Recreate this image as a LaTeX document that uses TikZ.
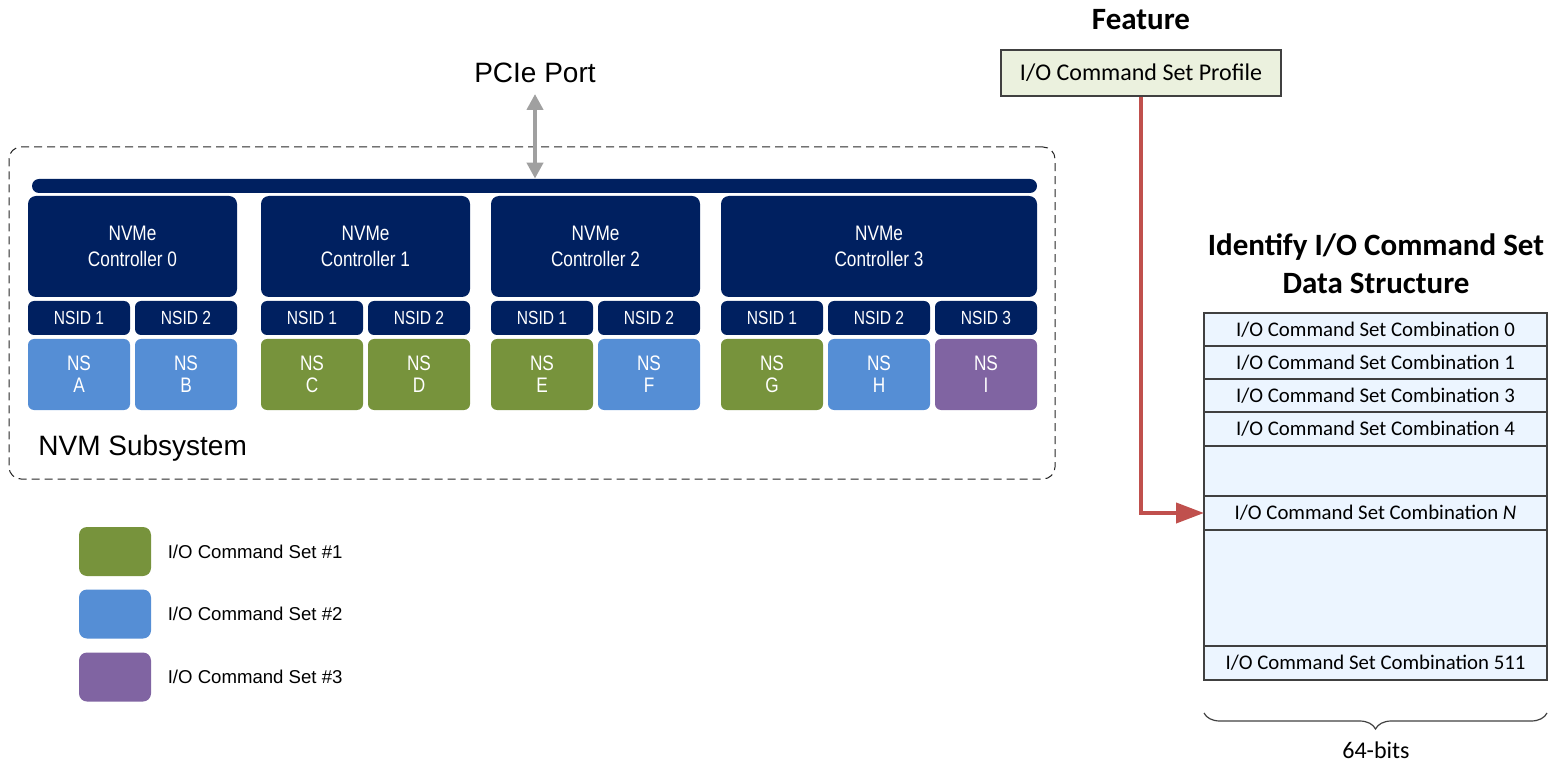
\documentclass[tikz,border=0pt]{standalone}
\usepackage{fontspec}
\setmainfont{Liberation Sans}
\newfontfamily\narrowfont[FakeStretch=0.82]{Liberation Sans}
\newfontfamily\calfont{Carlito}
\usetikzlibrary{positioning}
\usetikzlibrary{arrows.meta}
\usetikzlibrary{decorations.pathreplacing}

\definecolor{navy}{RGB}{0,32,96}
\definecolor{nsgreen}{RGB}{119,147,60}
\definecolor{nsblue}{RGB}{85,142,213}
\definecolor{nspurple}{RGB}{128,100,162}
\definecolor{portgray}{RGB}{160,160,160}
\definecolor{featred}{RGB}{192,80,77}
\definecolor{featfill}{RGB}{235,241,222}
\definecolor{rowfill}{RGB}{236,245,255}
\definecolor{edgegray}{RGB}{64,64,64}

\tikzset{
  ctrl/.style={fill=navy, rounded corners=4pt, text=white, align=center, inner sep=0pt,
    minimum width=104.5pt, minimum height=50.5pt, font=\narrowfont\fontsize{10.5}{13}\selectfont},
  nsid/.style={fill=navy, rounded corners=3pt, text=white, inner sep=0pt,
    minimum width=51pt, minimum height=17pt, font=\narrowfont\fontsize{9.5}{11}\selectfont},
  ns/.style={rounded corners=3pt, text=white, align=center, inner sep=0pt,
    minimum width=51pt, minimum height=35.5pt, font=\narrowfont\fontsize{10.5}{11}\selectfont},
  bus/.style={fill=navy, rounded corners=3.5pt, inner sep=0pt, minimum width=502.5pt, minimum height=7pt},
  subsys/.style={draw=black!85, line width=.5pt, dash pattern=on 4pt off 2.5pt, rounded corners=6pt,
    inner sep=0pt, minimum width=523pt, minimum height=166pt},
  pcie/.style={{Triangle[length=8pt,width=8pt]}-{Triangle[length=8pt,width=8pt]}, draw=portgray, line width=2pt},
  swatch/.style={rounded corners=4pt, minimum width=36pt, minimum height=24.5pt, inner sep=0pt},
  legend/.style={inner sep=0pt, font=\fontsize{9.3}{11}\selectfont},
  feat/.style={draw=edgegray, line width=.6pt, fill=featfill, minimum width=140pt, minimum height=23pt,
    inner sep=0pt, font=\calfont\fontsize{12}{14}\selectfont},
  link/.style={-{Triangle[length=14pt,width=10pt]}, draw=featred, line width=2pt},
  row/.style={draw=edgegray, line width=.6pt, fill=rowfill, minimum width=171.5pt, inner sep=0pt,
    outer sep=0pt, font=\calfont\fontsize{10.4}{12}\selectfont},
  title/.style={align=center, inner sep=0pt, font=\calfont\bfseries\fontsize{15.5}{19}\selectfont},
  brace/.style={decorate, decoration={brace, mirror, amplitude=8pt}, draw=edgegray, line width=.6pt}
}

\begin{document}
\begin{tikzpicture}[x=0.5pt, y=-0.5pt]
  \useasboundingbox (0,0) rectangle (1551,764);

    %----------------------------------------------------------
    % NVM subsystem with its controllers
    %----------------------------------------------------------
   \node[subsys] (nvm) at (532,313) {};
   \node[anchor=base west, inner sep=0pt, font=\fontsize{14}{16}\selectfont] (nvmlabel) at (38,455) {NVM Subsystem};
   \node[bus] (bus) at (534.5,186) {};

   \node[font=\fontsize{14}{16}\selectfont] (port) at (535,73) {PCIe Port};
   \draw[pcie] ([yshift=-2pt]port.south) -- (port.south |- bus.north);

   \node[ctrl] (c0) at (132.5,246.5) {NVMe\\Controller 0};
   \node[ctrl] (c1) at (365.5,246.5) {NVMe\\Controller 1};
   \node[ctrl] (c2) at (595.5,246.5) {NVMe\\Controller 2};
   \node[ctrl, minimum width=158pt] (c3) at (879,246.5) {NVMe\\Controller 3};

   % namespace IDs
   \node[nsid] (id01) at (79,318) {NSID 1};
   \node[nsid] (id02) at (186,318) {NSID 2};
   \node[nsid] (id11) at (312,318) {NSID 1};
   \node[nsid] (id12) at (419,318) {NSID 2};
   \node[nsid] (id21) at (542,318) {NSID 1};
   \node[nsid] (id22) at (649,318) {NSID 2};
   \node[nsid] (id31) at (772,318) {NSID 1};
   \node[nsid] (id32) at (879,318) {NSID 2};
   \node[nsid] (id33) at (986,318) {NSID 3};

   % namespaces
   \node[ns, fill=nsblue] (nsA) at (79,374.5) {NS\\A};
   \node[ns, fill=nsblue] (nsB) at (186,374.5) {NS\\B};
   \node[ns, fill=nsgreen] (nsC) at (312,374.5) {NS\\C};
   \node[ns, fill=nsgreen] (nsD) at (419,374.5) {NS\\D};
   \node[ns, fill=nsgreen] (nsE) at (542,374.5) {NS\\E};
   \node[ns, fill=nsblue] (nsF) at (649,374.5) {NS\\F};
   \node[ns, fill=nsgreen] (nsG) at (772,374.5) {NS\\G};
   \node[ns, fill=nsblue] (nsH) at (879,374.5) {NS\\H};
   \node[ns, fill=nspurple] (nsI) at (986,374.5) {NS\\I};

    %----------------------------------------------------------
    % Legend
    %----------------------------------------------------------
   \node[swatch, fill=nsgreen] (sw1) at (115,551.5) {};
   \node[swatch, fill=nsblue] (sw2) at (115,614) {};
   \node[swatch, fill=nspurple] (sw3) at (115,677) {};
   \node[legend, right=8pt of sw1] (lg1) {I/O Command Set \#1};
   \node[legend, right=8pt of sw2] (lg2) {I/O Command Set \#2};
   \node[legend, right=8pt of sw3] (lg3) {I/O Command Set \#3};

    %----------------------------------------------------------
    % Feature and data structure
    %----------------------------------------------------------
   \node[title] (feattitle) at (1141,20) {Feature};
   \node[feat] (feat) at (1141,73) {I/O Command Set Profile};

   \node[title] (tabtitle) at (1376,264) {Identify I/O Command Set\\Data Structure};
   \node[row, minimum height=16.5pt] (r0) at (1375.5,329.5) {I/O Command Set Combination 0};
   \node[row, minimum height=16.5pt, below=0pt of r0] (r1) {I/O Command Set Combination 1};
   \node[row, minimum height=16.5pt, below=0pt of r1] (r2) {I/O Command Set Combination 3};
   \node[row, minimum height=17pt, below=0pt of r2] (r3) {I/O Command Set Combination 4};
   \node[row, minimum height=25pt, below=0pt of r3] (r4) {};
   \node[row, minimum height=17pt, below=0pt of r4] (rN) {I/O Command Set Combination \textit{N}};
   \node[row, minimum height=58pt, below=0pt of rN] (r6) {};
   \node[row, minimum height=17pt, below=0pt of r6] (r7) {I/O Command Set Combination 511};

   \draw[link] (feat.south) |- (rN.west);

   % width brace
   \draw[brace] ([yshift=-16.5pt]r7.south west) -- ([yshift=-16.5pt]r7.south east);
   \node[font=\calfont\fontsize{12}{14}\selectfont] (bits) at (1376,750) {64-bits};
\end{tikzpicture}
\end{document}
